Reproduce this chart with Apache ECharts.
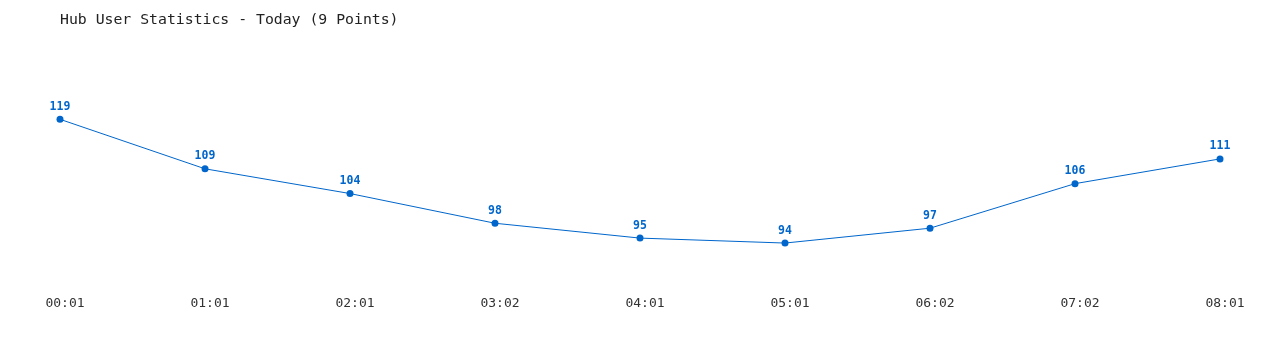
<!DOCTYPE html>
<html>
<head>
<meta charset="utf-8">
<script src="https://cdn.jsdelivr.net/npm/echarts@6/dist/echarts.min.js"></script>
<style>html,body{margin:0;padding:0;background:#fff}#c{width:1280px;height:350px}</style>
</head>
<body>
<div id="c"></div>
<script>
const titleText = 'Hub User Statistics - Today (9 Points)';
const categories = ['00:01','01:01','02:01','03:02','04:01','05:01','06:02','07:02','08:01'];
const users = [119,109,104,98,95,94,97,106,111];

const chart = echarts.init(document.getElementById('c'));
const mono = '"DejaVu Sans Mono", "Liberation Mono", monospace';
chart.setOption({
  animation: false,
  backgroundColor: '#ffffff',
  title: {
    text: titleText,
    left: 55, top: 8,
    textStyle: { fontFamily: mono, fontSize: 14.8, fontWeight: 'normal', color: '#222' }
  },
  grid: { left: 60, right: 60, top: 64.85, bottom: 62.4 },
  xAxis: {
    type: 'category',
    data: categories,
    boundaryGap: false,
    axisLine: { show: false },
    axisTick: { show: false },
    splitLine: { show: false },
    axisLabel: { margin: 10, padding: [0,0,0,10], fontFamily: mono, fontSize: 13, color: '#333' }
  },
  yAxis: {
    type: 'value', min: 85, max: 130, show: false,
    splitLine: { show: false }
  },
  series: [{
    type: 'line',
    data: users,
    symbol: 'circle',
    symbolSize: 7,
    lineStyle: { color: '#0066cc', width: 1 },
    itemStyle: { color: '#0066cc' },
    label: {
      show: true, position: 'top', distance: 3,
      fontFamily: mono, fontSize: 11.5, fontWeight: 'bold', color: '#0066cc'
    }
  }]
});
</script>
</body>
</html>
